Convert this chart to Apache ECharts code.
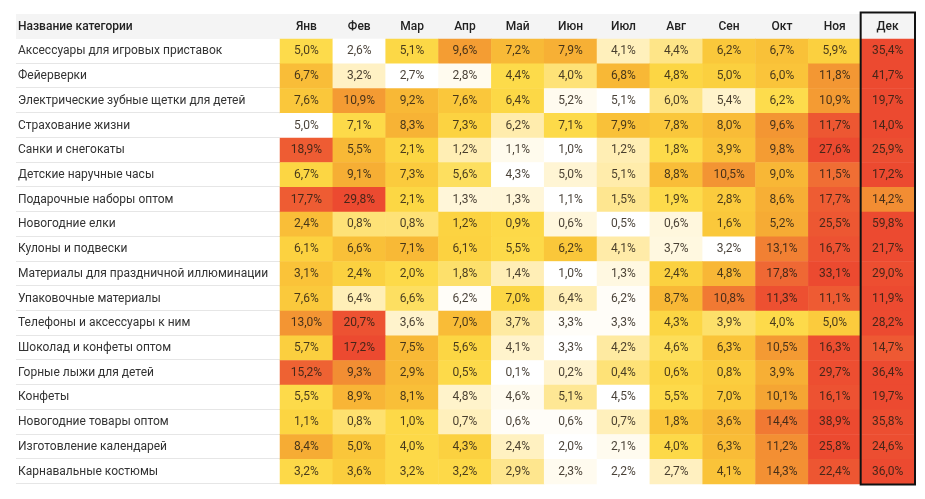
<!DOCTYPE html>
<html><head><meta charset="utf-8">
<script src="https://cdn.jsdelivr.net/npm/echarts@6/dist/echarts.min.js"></script>
<style>html,body{margin:0;padding:0;background:#fff}#c{width:925px;height:499px}</style>
</head><body><div id="c"></div>
<script>
const headerTitle = 'Название категории';
const months = ['Янв','Фев','Мар','Апр','Май','Июн','Июл','Авг','Сен','Окт','Ноя','Дек'];
const categories = [
  'Аксессуары для игровых приставок',
  'Фейерверки',
  'Электрические зубные щетки для детей',
  'Страхование жизни',
  'Санки и снегокаты',
  'Детские наручные часы',
  'Подарочные наборы оптом',
  'Новогодние елки',
  'Кулоны и подвески',
  'Материалы для праздничной иллюминации',
  'Упаковочные материалы',
  'Телефоны и аксессуары к ним',
  'Шоколад и конфеты оптом',
  'Горные лыжи для детей',
  'Конфеты',
  'Новогодние товары оптом',
  'Изготовление календарей',
  'Карнавальные костюмы'
];
const values = [
  [5.0,2.6,5.1,9.6,7.2,7.9,4.1,4.4,6.2,6.7,5.9,35.4],
  [6.7,3.2,2.7,2.8,4.4,4.0,6.8,4.8,5.0,6.0,11.8,41.7],
  [7.6,10.9,9.2,7.6,6.4,5.2,5.1,6.0,5.4,6.2,10.9,19.7],
  [5.0,7.1,8.3,7.3,6.2,7.1,7.9,7.8,8.0,9.6,11.7,14.0],
  [18.9,5.5,2.1,1.2,1.1,1.0,1.2,1.8,3.9,9.8,27.6,25.9],
  [6.7,9.1,7.3,5.6,4.3,5.0,5.1,8.8,10.5,9.0,11.5,17.2],
  [17.7,29.8,2.1,1.3,1.3,1.1,1.5,1.9,2.8,8.6,17.7,14.2],
  [2.4,0.8,0.8,1.2,0.9,0.6,0.5,0.6,1.6,5.2,25.5,59.8],
  [6.1,6.6,7.1,6.1,5.5,6.2,4.1,3.7,3.2,13.1,16.7,21.7],
  [3.1,2.4,2.0,1.8,1.4,1.0,1.3,2.4,4.8,17.8,33.1,29.0],
  [7.6,6.4,6.6,6.2,7.0,6.4,6.2,8.7,10.8,11.3,11.1,11.9],
  [13.0,20.7,3.6,7.0,3.7,3.3,3.3,4.3,3.9,4.0,5.0,28.2],
  [5.7,17.2,7.5,5.6,4.1,3.3,4.2,4.6,6.3,10.5,16.3,14.7],
  [15.2,9.3,2.9,0.5,0.1,0.2,0.4,0.6,0.8,3.9,29.7,36.4],
  [5.5,8.9,8.1,4.8,4.6,5.1,4.5,5.5,7.0,10.1,16.1,19.7],
  [1.1,0.8,1.0,0.7,0.6,0.6,0.7,1.8,3.6,14.4,38.9,35.8],
  [8.4,5.0,4.0,4.3,2.4,2.0,2.1,4.0,6.3,11.2,25.8,24.6],
  [3.2,3.6,3.2,3.2,2.9,2.3,2.2,2.7,4.1,14.3,22.4,36.0]
];

// colour scale (per row: blend of log position and rank position)
const stops = [
  [0.00,[255,255,255]],[0.07,[255,250,234]],[0.13,[255,240,190]],[0.19,[254,229,138]],
  [0.25,[253,220,76]],[0.35,[252,213,66]],[0.45,[250,198,58]],[0.58,[248,184,54]],
  [0.68,[245,166,51]],[0.76,[242,138,51]],[0.82,[239,104,52]],[0.88,[237,82,50]],[1.00,[236,74,48]]
];
function colorAt(p){
  p = Math.max(0, Math.min(1, p));
  for (let i = 1; i < stops.length; i++) {
    if (p <= stops[i][0]) {
      const a = stops[i-1], b = stops[i];
      const t = (p - a[0]) / (b[0] - a[0]);
      const c = a[1].map((v, k) => Math.round(v + (b[1][k] - v) * t));
      return 'rgb(' + c.join(',') + ')';
    }
  }
  return 'rgb(236,74,48)';
}
function rowPositions(row){
  const min = Math.min(...row), max = Math.max(...row);
  const sorted = [...row].sort((a,b)=>a-b);
  return row.map(v => {
    const f = sorted.indexOf(v), l = sorted.lastIndexOf(v);
    const r = ((f + l) / 2) / (row.length - 1);
    const lg = Math.log(v / min) / Math.log(max / min);
    return (r + lg) / 2;
  });
}

const data = [];
values.forEach((row, i) => {
  const pos = rowPositions(row);
  row.forEach((v, j) => {
    data.push({ value: [j, i, v], itemStyle: { color: colorAt(pos[j]) } });
  });
});

const W = 925, H = 499;
const G = { left: 280, right: 11, top: 39, bottom: 15 };
const rowH = (H - G.top - G.bottom) / categories.length;
const colW = (W - G.left - G.right) / months.length;

const graphics = [
  { type: 'rect', z: -10, shape: { x: 16, y: 14, width: W - G.right - 16, height: G.top - 14 }, style: { fill: '#f4f4f4' } },
  { type: 'text', z: 10, style: { x: 18, y: 27, text: headerTitle, fontSize: 12, fontWeight: 500, fontFamily: 'Roboto', fill: '#222', verticalAlign: 'middle' } }
];
for (let k = 1; k <= categories.length; k++) {
  const y = Math.round(G.top + k * rowH) - 0.5;
  graphics.push({ type: 'line', z: -5, shape: { x1: 16, y1: y, x2: G.left, y2: y }, style: { stroke: '#e6e6e6', lineWidth: 1 } });
}
const decX = G.left + (months.length - 1) * colW;
graphics.push({ type: 'rect', z: 100, shape: { x: decX - 0.5, y: 12.5, width: colW + 1.5, height: H - G.bottom - 12 }, style: { fill: 'none', stroke: '#111', lineWidth: 2 } });

const chart = echarts.init(document.getElementById('c'), null, { renderer: 'canvas' });
chart.setOption({
  animation: false,
  backgroundColor: '#fff',
  textStyle: { fontFamily: 'Roboto' },
  grid: G,
  xAxis: {
    type: 'category', data: months, position: 'top',
    axisLine: { show: false }, axisTick: { show: false }, splitLine: { show: false },
    axisLabel: { margin: 12, verticalAlign: 'middle', fontSize: 12, fontWeight: 500, color: '#222', fontFamily: 'Roboto' }
  },
  yAxis: {
    type: 'category', data: categories, inverse: true,
    axisLine: { show: false }, axisTick: { show: false }, splitLine: { show: false },
    axisLabel: { align: 'left', margin: G.left - 18, fontSize: 12, color: '#333', fontFamily: 'Roboto' }
  },
  graphic: graphics,
  series: [{
    type: 'heatmap',
    data: data,
    label: {
      show: true, fontSize: 12, color: 'rgba(40,30,20,0.85)', fontFamily: 'Roboto',
      formatter: p => p.value[2].toFixed(1).replace('.', ',') + '%'
    },
    emphasis: { disabled: true }
  }]
});
</script></body></html>
